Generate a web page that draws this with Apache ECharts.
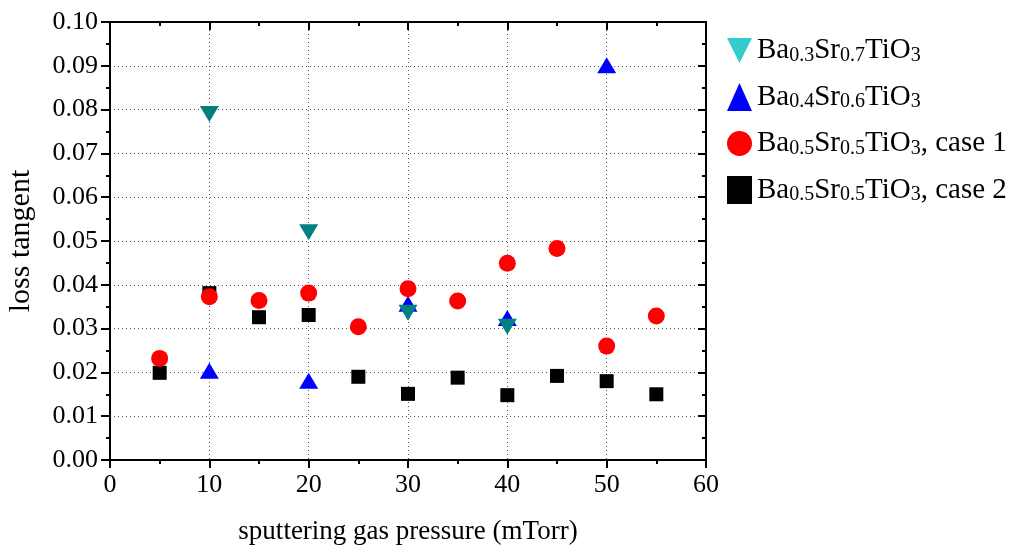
<!DOCTYPE html>
<html>
<head>
<meta charset="utf-8">
<script src="https://cdn.jsdelivr.net/npm/echarts@6/dist/echarts.min.js"></script>
<style>
  html, body { margin: 0; padding: 0; background: #fff; }
  #chart { width: 1032px; height: 548px; }
</style>
</head>
<body>
<div id="chart"></div>
<script>
// data
var pressure = [5, 10, 15, 20, 25, 30, 35, 40, 45, 50, 55];
var bst37x = [10, 20, 30, 40];
var bst37 = [0.079, 0.052, 0.0336, 0.0304];
var bst46x = [10, 20, 30, 40, 50];
var bst46 = [0.0204, 0.0181, 0.0357, 0.0324, 0.0901];
var case1 = [0.0232, 0.0373, 0.0364, 0.0381, 0.0304, 0.0391, 0.0363, 0.0449, 0.0483, 0.0260, 0.0329];
var case2 = [0.0199, 0.0381, 0.0326, 0.0331, 0.0190, 0.0151, 0.0188, 0.0148, 0.0192, 0.0180, 0.0150];
var xTicks = [0, 10, 20, 30, 40, 50, 60];
var yTicks = [0, 0.01, 0.02, 0.03, 0.04, 0.05, 0.06, 0.07, 0.08, 0.09, 0.10];

var names = ['Ba0.3Sr0.7TiO3', 'Ba0.4Sr0.6TiO3', 'Ba0.5Sr0.5TiO3, case 1', 'Ba0.5Sr0.5TiO3, case 2'];
var labels = {};
labels[names[0]] = '{n|Ba}{s|0.3}{n|Sr}{s|0.7}{n|TiO}{s|3}';
labels[names[1]] = '{n|Ba}{s|0.4}{n|Sr}{s|0.6}{n|TiO}{s|3}';
labels[names[2]] = '{n|Ba}{s|0.5}{n|Sr}{s|0.5}{n|TiO}{s|3}{n|, case 1}';
labels[names[3]] = '{n|Ba}{s|0.5}{n|Sr}{s|0.5}{n|TiO}{s|3}{n|, case 2}';

function zip(xs, ys) {
  return xs.map(function (x, i) { return [x, ys[i]]; });
}

var font = 'Liberation Serif';
var dotted = { show: true, lineStyle: { color: '#555', type: [1, 3], width: 1 } };
var axisLine = { onZero: false, lineStyle: { color: '#000', width: 2 } };
var tickStyle = { color: '#000', width: 2 };

var chart = echarts.init(document.getElementById('chart'), null, { renderer: 'canvas' });

var option = {
  animation: false,
  backgroundColor: '#fff',
  grid: { left: 110, right: 326, top: 22, bottom: 88, containLabel: false, outerBoundsMode: 'none' },
  legend: {
    orient: 'vertical',
    left: 722,
    top: 31,
    itemWidth: 25,
    itemHeight: 28,
    itemGap: 17,
    data: [
      { name: names[0], icon: 'path://M0,0 L10,0 L5,10 Z', itemStyle: { color: '#33cccc' } },
      { name: names[1], icon: 'triangle' },
      { name: names[2], icon: 'circle' },
      { name: names[3], icon: 'rect' }
    ],
    formatter: function (n) { return labels[n]; },
    textStyle: {
      rich: {
        n: { fontFamily: font, fontSize: 29, color: '#000', lineHeight: 30 },
        s: { fontFamily: font, fontSize: 20, color: '#000', verticalAlign: 'bottom', lineHeight: 24 }
      }
    }
  },
  xAxis: [{
    type: 'value', min: 0, max: 60, interval: 10, position: 'bottom',
    name: 'sputtering gas pressure (mTorr)', nameLocation: 'middle', nameGap: 58,
    nameTextStyle: { fontFamily: font, fontSize: 27, color: '#000' },
    axisLine: axisLine,
    axisTick: { length: 8, lineStyle: tickStyle },
    minorTick: { show: true, splitNumber: 2, length: 4, lineStyle: tickStyle },
    axisLabel: { fontFamily: font, fontSize: 26, color: '#000', margin: 12,
      formatter: function (v) { return xTicks.indexOf(v) >= 0 ? String(v) : ''; } },
    splitLine: dotted
  }, {
    type: 'value', min: 0, max: 60, interval: 10, position: 'top',
    axisLine: axisLine,
    axisTick: { inside: true, length: 8, lineStyle: tickStyle },
    minorTick: { show: true, splitNumber: 2, length: 4, lineStyle: tickStyle },
    axisLabel: { show: false },
    splitLine: { show: false }
  }],
  yAxis: [{
    type: 'value', min: 0, max: 0.1, interval: 0.01, position: 'left',
    name: 'loss tangent', nameLocation: 'middle', nameGap: 74,
    nameTextStyle: { fontFamily: font, fontSize: 30, color: '#000' },
    axisLine: axisLine,
    axisTick: { length: 9, lineStyle: tickStyle },
    minorTick: { show: true, splitNumber: 2, length: 4, lineStyle: tickStyle },
    axisLabel: { fontFamily: font, fontSize: 26, color: '#000', margin: 12,
      formatter: function (v) {
        var idx = yTicks.findIndex(function (t) { return Math.abs(t - v) < 1e-9; });
        return idx >= 0 ? yTicks[idx].toFixed(2) : '';
      } },
    splitLine: dotted
  }, {
    type: 'value', min: 0, max: 0.1, interval: 0.01, position: 'right',
    axisLine: axisLine,
    axisTick: { inside: true, length: 8, lineStyle: tickStyle },
    minorTick: { show: true, splitNumber: 2, length: 4, lineStyle: tickStyle },
    axisLabel: { show: false },
    splitLine: { show: false }
  }],
  series: [{
    name: names[3], type: 'scatter', symbol: 'rect', symbolSize: 14,
    itemStyle: { color: '#000', opacity: 1 },
    data: zip(pressure, case2)
  }, {
    name: names[1], type: 'scatter', symbol: 'triangle', symbolSize: [19, 16],
    itemStyle: { color: '#0000ff', opacity: 1 },
    data: zip(bst46x, bst46)
  }, {
    name: names[0], type: 'scatter', symbol: 'triangle', symbolRotate: 180, symbolSize: [19, 16],
    itemStyle: { color: '#008080', opacity: 1 },
    data: zip(bst37x, bst37)
  }, {
    name: names[2], type: 'scatter', symbol: 'circle', symbolSize: 17,
    itemStyle: { color: '#ff0000', opacity: 1 },
    data: zip(pressure, case1)
  }]
};

chart.setOption(option);
window.addEventListener('resize', chart.resize);
</script>
</body>
</html>
